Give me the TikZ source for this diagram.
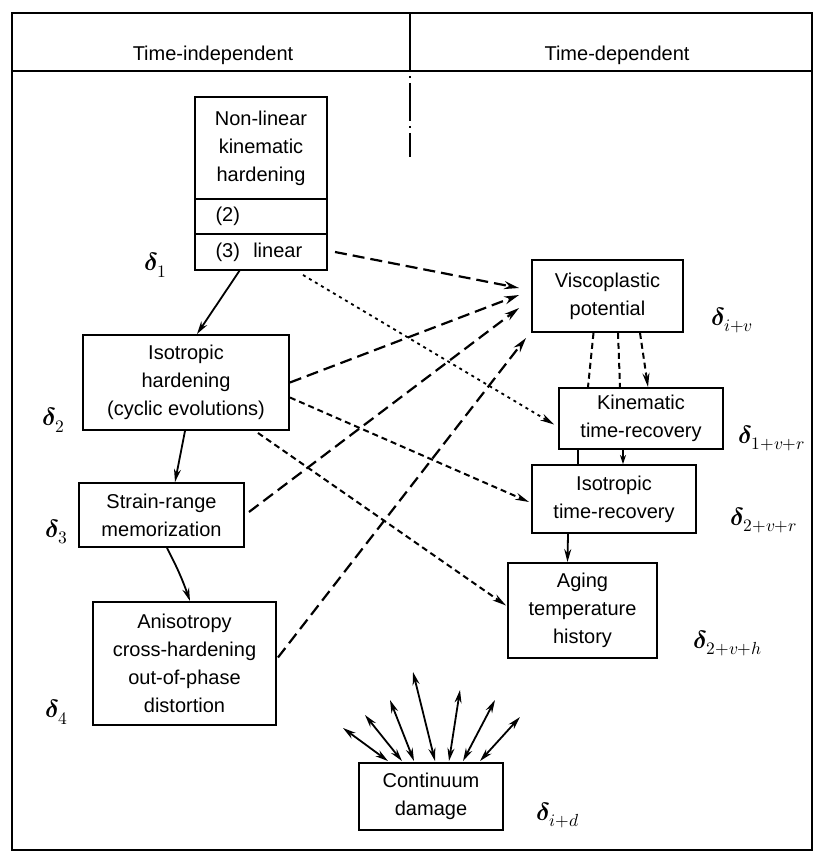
\documentclass[tikz,border=0pt]{standalone}
\usepackage{fontspec}
\usepackage{unicode-math}
\setmainfont{Liberation Sans}
\setmathfont{Latin Modern Math}
\usetikzlibrary{calc,positioning,arrows.meta}

\begin{document}
\begin{tikzpicture}[x=1pt,y=-1pt,
    box/.style={draw, line width=1.9pt, align=center, inner sep=0pt, font=\fontsize{20}{28}\selectfont},
    hdr/.style={anchor=base, font=\fontsize{20}{24}\selectfont},
    dlt/.style={font=\fontsize{25}{28}\selectfont},
    solidarr/.style={line width=1.8pt, -{Stealth[length=13pt,width=7pt]}},
    shortarr/.style={line width=1.8pt, -{Stealth[length=9pt,width=6pt]}},
    longdash/.style={line width=2.2pt, dash pattern=on 12pt off 6pt, -{Stealth[length=15pt,width=8pt]}},
    shortdash/.style={line width=2pt, dash pattern=on 6pt off 4pt},
    dotline/.style={line width=1.8pt, dash pattern=on 3pt off 4pt},
    dblarr/.style={line width=1.8pt, {Stealth[length=13pt,width=7pt]}-{Stealth[length=13pt,width=7pt]}}]

    \useasboundingbox (0,0) rectangle (816,861);

    \draw[line width=2pt] (12,13) rectangle (812,850);
    \draw[line width=2pt] (12,71) -- (812,71);
    \draw[line width=1.8pt] (410,13) -- (410,71);
    \draw[line width=1.8pt, dash pattern=on 2pt off 5pt on 38pt off 5pt on 2pt off 5pt on 24pt off 5pt] (410,76) -- (410,157);

    \node[hdr] (tind) at (213,61) {Time-independent};
    \node[hdr] (tdep) at (617,61) {Time-dependent};

    \node[box, outer sep=0pt, minimum width=132, minimum height=102] (nlk) at (261,148) {Non-linear\\kinematic\\hardening};
    \node[box, outer sep=0pt, minimum width=132, minimum height=35, text width=91, align=left, anchor=north] (nlktwo) at (nlk.south) {(2)};
    \node[box, outer sep=0pt, minimum width=132, minimum height=36, text width=91, align=left, anchor=north] (nlkthree) at (nlktwo.south) {(3)\ \ linear};

    \node[box, minimum width=206, minimum height=95] (ih) at (186,382.5) {Isotropic\\hardening\\(cyclic evolutions)};
    \node[box, minimum width=165, minimum height=64] (srm) at (161.5,515) {Strain-range\\memorization};
    \node[box, minimum width=183, minimum height=123] (ani) at (184.5,663.5) {Anisotropy\\cross-hardening\\out-of-phase\\distortion};

    \node[box, minimum width=151, minimum height=72] (vp) at (607.5,296) {Viscoplastic\\potential};
    \node[box, minimum width=164, minimum height=61] (ktr) at (641,418.5) {Kinematic\\time-recovery};
    \node[box, minimum width=164, minimum height=68] (itr) at (614,499) {Isotropic\\time-recovery};
    \node[box, minimum width=149, minimum height=95] (age) at (582.5,610.5) {Aging\\temperature\\history};
    \node[box, minimum width=144, minimum height=67] (cd) at (431,796.5) {Continuum\\damage};

    \node[dlt] (d1) at (156,265) {$\symbfit{\delta}_1$};
    \node[dlt] (d2) at (54,420) {$\symbfit{\delta}_2$};
    \node[dlt] (d3) at (57,532) {$\symbfit{\delta}_3$};
    \node[dlt] (d4) at (57,712) {$\symbfit{\delta}_4$};
    \node[dlt] (dv) at (732,320) {$\symbfit{\delta}_{i+v}$};
    \node[dlt] (dkr) at (772,438) {$\symbfit{\delta}_{1+v+r}$};
    \node[dlt] (dir) at (764,520) {$\symbfit{\delta}_{2+v+r}$};
    \node[dlt] (dh) at (728,643) {$\symbfit{\delta}_{2+v+h}$};
    \node[dlt] (dd) at (558,815) {$\symbfit{\delta}_{i+d}$};

    \draw[solidarr] ($(nlkthree.south)+(-21,0)$) -- ($(ih.north)+(11,0)$);
    \draw[solidarr] ($(ih.south)+(-1,0)$) -- ($(srm.north)+(13.5,0)$);
    \draw[solidarr] ($(srm.south)+(5.5,0)$) to[bend left=4] ($(ani.north)+(5.5,0)$);

    \draw[longdash] ($(nlkthree.east)+(8,0)$) -- ($(vp.west)+(-12,-8)$);
    \draw[longdash] (ih.east) -- ($(vp.west)+(-12,-1)$);
    \draw[longdash] ($(srm.east)+(4,-3)$) -- ($(vp.west)+(-12,12)$);
    \draw[longdash] ($(ani.east)+(1,-6)$) -- ($(vp.south west)+(-5,5)$);

    \draw[dotline, -{Stealth[length=14pt,width=7pt]}] ($(nlkthree.south east)+(-24,5)$) -- ($(ktr.west)+(-4,6)$);
    \draw[shortdash, -{Stealth[length=14pt,width=7pt]}] ($(ih.east)+(0,15)$) -- ($(itr.west)+(-2,3)$);
    \draw[shortdash, -{Stealth[length=14pt,width=7pt]}] ($(ih.south east)+(-32,2)$) -- ($(age.west)+(-1,-5)$);

    \draw[shortdash] ($(vp.south)+(-14,0)$) -- ($(ktr.north)+(-53,0)$);
    \draw[shortdash] ($(vp.south)+(10.5,0)$) -- ($(ktr.north)+(-21,0)$);
    \draw[shortdash, -{Stealth[length=14pt,width=7pt]}] ($(vp.south)+(32.5,0)$) -- ($(ktr.north)+(7,0)$);

    \draw[line width=1.8pt] ($(ktr.south)+(-63,0)$) -- ($(itr.north)+(-36,0)$);
    \draw[shortarr] ($(ktr.south)+(-18,0)$) -- ($(itr.north)+(9,0)$);
    \draw[solidarr] ($(itr.south)+(-46,0)$) -- ($(age.north)+(-15,0)$);

    \foreach \i/\a/\tx/\ty in {1/-43/343/728, 2/-29/365/715, 3/-17/390/700, 4/4/413/672, 5/18/460/690, 6/32/495/700, 7/49/520/717} {
        \coordinate (dmg\i) at (\tx,\ty);
        \draw[dblarr] ($(cd.north)+(\a,-1)$) -- (dmg\i);
    }

\end{tikzpicture}
\end{document}
